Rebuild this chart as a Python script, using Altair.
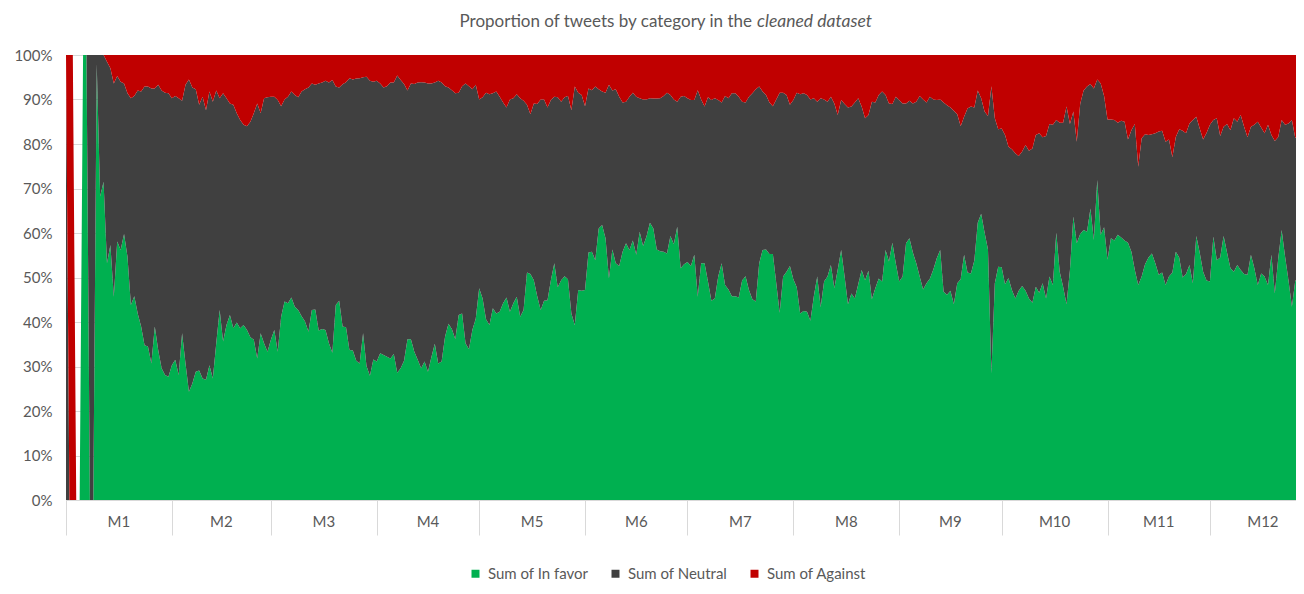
import altair as alt
import pandas as pd

categories = ["Sum of In favor", "Sum of Neutral", "Sum of Against"]
colors = ["#00B050", "#404040", "#C00000"]

month_labels = ["M1", "M2", "M3", "M4", "M5", "M6", "M7", "M8", "M9", "M10", "M11", "M12"]
month_starts = [0, 31, 60, 91, 121, 152, 182, 213, 244, 274, 305, 335]
month_ends = [31, 60, 91, 121, 152, 182, 213, 244, 274, 305, 335, 366]

# days with no tweets at all
empty_days = [3, 4]

# top of the "In favor" band (%), one value per day
in_favor = [
    0, 0, 0, 0, 0, 100, 100, 0, 0, 98,
    68.2, 71.5, 53.2, 57.3, 45.7, 58.1, 56.2, 59.8, 54.7, 43.8,
    45.8, 41.9, 39.0, 34.8, 34.5, 30.7, 39.0, 33.7, 29.6, 28.1,
    27.7, 30.3, 31.5, 28.1, 37.5, 30.7, 24.3, 26.2, 28.8, 29.1,
    27.3, 27.0, 30.3, 27.3, 35.2, 42.7, 35.6, 39.3, 41.6, 38.6,
    39.9, 38.6, 39.3, 38.2, 36.6, 36.0, 31.8, 37.5, 35.2, 33.3,
    36.0, 38.2, 33.3, 41.2, 44.6, 44.2, 45.5, 43.4, 42.7, 41.3,
    40.1, 37.8, 42.7, 42.8, 38.1, 38.4, 38.2, 35.2, 33.1, 43.8,
    44.8, 39.0, 38.8, 33.7, 33.6, 31.3, 30.7, 37.5, 30.1, 27.9,
    31.6, 31.1, 33.0, 32.6, 32.2, 31.8, 32.8, 28.6, 29.6, 31.3,
    36.1, 36.1, 33.3, 31.5, 29.6, 31.1, 28.8, 32.1, 35.1, 30.7,
    31.1, 36.7, 39.6, 38.4, 36.1, 41.6, 41.9, 35.2, 33.9, 38.2,
    40.8, 47.6, 45.3, 40.6, 39.3, 43.1, 41.9, 42.3, 44.2, 45.5,
    42.3, 44.2, 45.7, 41.2, 42.7, 51.1, 50.8, 49.4, 45.8, 42.7,
    44.8, 44.9, 49.4, 53.2, 47.8, 49.4, 50.3, 49.6, 41.9, 39.3,
    47.2, 47.0, 47.2, 55.6, 55.8, 53.9, 61.0, 61.8, 58.8, 49.8,
    56.3, 53.2, 52.6, 55.8, 57.7, 56.2, 58.3, 55.1, 60.3, 57.1,
    59.2, 62.3, 61.0, 56.3, 55.9, 55.8, 55.4, 59.3, 57.5, 61.4,
    52.1, 53.0, 53.5, 52.6, 55.1, 45.7, 53.2, 53.2, 49.1, 44.8,
    45.3, 50.2, 53.2, 48.3, 47.3, 45.8, 45.8, 45.5, 49.3, 50.3,
    47.2, 45.1, 44.6, 53.2, 56.2, 56.3, 55.3, 55.3, 48.7, 42.1,
    50.2, 51.3, 52.6, 49.6, 47.8, 41.9, 42.5, 42.3, 40.3, 45.8,
    50.2, 43.3, 49.1, 50.2, 52.8, 47.6, 51.8, 56.2, 50.3, 44.0,
    46.4, 45.3, 48.5, 51.7, 49.4, 51.5, 45.1, 47.6, 49.8, 49.1,
    56.2, 53.6, 57.8, 53.2, 49.1, 50.2, 57.7, 58.8, 55.6, 53.2,
    50.2, 47.3, 48.7, 49.8, 51.8, 54.3, 56.2, 46.8, 46.1, 47.0,
    44.0, 48.7, 49.6, 55.1, 51.1, 50.9, 53.8, 62.3, 64.3, 60.1,
    56.3, 28.5, 48.7, 52.4, 52.3, 48.5, 49.9, 47.2, 45.3, 47.0,
    48.1, 47.0, 45.3, 44.3, 47.9, 46.6, 48.7, 45.3, 50.2, 48.3,
    60.1, 51.3, 47.9, 44.0, 51.7, 63.7, 57.7, 59.8, 60.7, 60.3,
    65.5, 58.4, 71.9, 59.6, 61.3, 54.0, 58.8, 58.3, 59.6, 59.0,
    58.3, 57.8, 55.8, 51.7, 48.3, 50.2, 53.0, 54.5, 55.4, 53.2,
    50.6, 51.1, 48.3, 50.2, 51.1, 55.8, 54.5, 50.0, 50.8, 52.8,
    48.7, 59.3, 55.6, 51.3, 49.3, 49.1, 59.2, 53.9, 54.5, 59.3,
    55.6, 52.1, 51.3, 52.8, 51.7, 50.8, 50.6, 55.1, 52.1, 48.3,
    50.9, 50.2, 48.3, 55.1, 46.4, 54.3, 60.7, 54.7, 49.4, 43.4,
    49.4, 48.7, 52.4,
]

# top of the "Neutral" band (= In favor + Neutral, %), one value per day
upper = [
    100, 0, 0, 0, 0, 100, 100, 100, 100, 100,
    100, 100, 98.5, 97.0, 93.6, 95.3, 94.0, 93.6, 91.4, 90.3,
    90.8, 92.0, 91.8, 92.9, 92.9, 92.5, 92.5, 93.3, 92.0, 91.5,
    91.4, 90.3, 90.8, 90.3, 89.7, 93.3, 94.5, 92.7, 92.3, 88.8,
    90.6, 87.6, 91.8, 89.5, 92.0, 90.3, 91.4, 90.3, 89.1, 88.8,
    86.9, 85.4, 84.3, 84.0, 85.0, 86.9, 89.1, 86.9, 90.3, 90.5,
    90.6, 90.6, 89.9, 88.5, 90.0, 90.6, 91.8, 91.0, 90.5, 91.8,
    92.3, 92.7, 93.6, 93.3, 93.6, 93.8, 94.2, 93.8, 94.4, 92.9,
    92.7, 93.4, 93.9, 94.8, 94.5, 94.7, 94.8, 95.0, 95.1, 94.2,
    94.0, 94.2, 93.6, 92.7, 93.0, 93.8, 93.8, 95.4, 94.4, 93.5,
    92.0, 93.6, 93.5, 93.8, 93.9, 93.8, 93.6, 93.6, 93.8, 94.2,
    93.8, 93.0, 92.7, 92.1, 91.4, 91.5, 93.0, 93.6, 93.0, 92.3,
    93.3, 90.0, 90.5, 91.5, 91.2, 91.4, 91.8, 90.6, 89.3, 88.2,
    90.0, 90.3, 91.2, 90.3, 89.7, 88.8, 86.7, 89.1, 89.0, 90.0,
    90.0, 88.2, 89.9, 90.6, 90.5, 89.5, 90.5, 90.8, 87.6, 92.9,
    91.5, 91.0, 88.5, 92.5, 92.1, 92.9, 92.3, 91.8, 91.5, 93.3,
    92.0, 92.3, 90.6, 89.3, 89.5, 90.6, 91.5, 90.6, 90.3, 90.0,
    90.0, 90.3, 90.2, 90.2, 90.3, 90.8, 91.5, 91.0, 90.0, 89.5,
    90.6, 90.8, 90.3, 89.9, 89.9, 92.1, 90.0, 88.4, 90.5, 89.9,
    90.3, 89.9, 89.3, 90.8, 90.3, 91.4, 91.4, 90.6, 89.5, 89.3,
    90.6, 91.4, 92.3, 92.9, 91.8, 91.0, 89.3, 88.5, 90.0, 91.5,
    91.5, 91.0, 88.8, 89.9, 91.5, 91.2, 91.4, 91.0, 90.0, 90.3,
    89.5, 90.3, 90.0, 89.5, 90.6, 89.1, 86.5, 89.9, 89.0, 88.2,
    88.4, 89.3, 90.3, 88.4, 85.8, 86.5, 89.5, 89.3, 91.0, 91.8,
    91.0, 89.1, 89.0, 90.6, 89.9, 89.1, 89.1, 89.7, 89.1, 89.5,
    90.8, 90.0, 89.3, 90.6, 90.0, 89.9, 90.0, 89.3, 88.7, 88.2,
    87.5, 86.7, 84.0, 86.1, 88.0, 88.4, 88.2, 92.0, 90.3, 87.3,
    86.3, 93.0, 85.8, 83.3, 83.5, 82.0, 79.4, 78.8, 77.9, 77.3,
    78.3, 79.8, 78.5, 79.0, 82.0, 82.4, 81.5, 81.8, 84.5, 84.3,
    85.4, 84.8, 84.8, 88.4, 84.5, 87.3, 80.5, 89.0, 92.0, 92.9,
    93.5, 92.5, 94.5, 93.6, 90.8, 85.5, 85.5, 85.4, 84.8, 85.2,
    85.0, 81.0, 83.1, 84.5, 74.9, 81.3, 82.2, 82.0, 82.2, 82.4,
    82.8, 83.0, 80.5, 81.0, 77.0, 81.6, 83.3, 83.0, 82.4, 84.6,
    85.4, 86.1, 83.5, 81.0, 82.5, 84.3, 85.4, 85.8, 81.8, 83.9,
    84.5, 83.1, 85.8, 85.0, 86.5, 83.9, 81.5, 83.9, 84.3, 85.0,
    83.7, 82.4, 84.3, 82.0, 80.7, 81.6, 85.4, 84.3, 84.6, 85.4,
    81.3, 82.8, 86.5,
]

rows = []
for day, (g, t) in enumerate(zip(in_favor, upper)):
    if day in empty_days:
        vals = (0.0, 0.0, 0.0)
    else:
        vals = (g, t - g, 100 - t)
    for k, (cat, v) in enumerate(zip(categories, vals)):
        rows.append({"day": day, "category": cat, "value": round(v, 3), "order": k})
df = pd.DataFrame(rows)

months = pd.DataFrame({
    "label": month_labels,
    "mid": [(s + e) / 2 for s, e in zip(month_starts, month_ends)],
})

FONT = "Lato"
TXT = "#595959"
GRID = "#d9d9d9"
W, H = 1230, 445

xscale = alt.Scale(domain=[0, 360.2], nice=False, zero=False)

area = alt.Chart(df).mark_area(interpolate="linear", clip=True).encode(
    x=alt.X("day:Q", scale=xscale,
            axis=alt.Axis(values=month_starts, grid=False, labels=False, title=None,
                          tickSize=35, tickColor=GRID, domainColor=GRID, tickWidth=1)),
    y=alt.Y("value:Q", stack="zero", scale=alt.Scale(domain=[0, 100], nice=False),
            axis=alt.Axis(values=list(range(0, 101, 10)), labelExpr="datum.value + '%'",
                          grid=True, gridColor=GRID, domain=False, ticks=False,
                          labelPadding=14, title=None, labelFontSize=15,
                          labelColor=TXT, labelFont=FONT)),
    color=alt.Color("category:N",
                    scale=alt.Scale(domain=categories, range=colors),
                    legend=alt.Legend(title=None, orient="none", direction="horizontal",
                                      legendX=402, legendY=511, symbolType="square",
                                      symbolSize=64, symbolStrokeWidth=0,
                                      labelFontSize=15, labelColor=TXT, labelFont=FONT,
                                      columnPadding=19, labelOffset=5, padding=0)),
    order=alt.Order("order:Q"),
)

month_text = alt.Chart(months).mark_text(
    font=FONT, fontSize=15, color=TXT, baseline="middle", align="center"
).encode(
    x=alt.X("mid:Q", scale=xscale),
    y=alt.value(467),
    text="label:N",
)

title_df = pd.DataFrame({"a": ["Proportion of tweets by category in the"],
                         "b": ["cleaned dataset"]})
title_a = alt.Chart(title_df).mark_text(
    font=FONT, fontSize=17, color=TXT, align="right", baseline="alphabetic"
).encode(x=alt.value(686), y=alt.value(-28), text="a:N")
title_b = alt.Chart(title_df).mark_text(
    font=FONT, fontSize=17.5, color=TXT, align="left", baseline="alphabetic", fontStyle="italic"
).encode(x=alt.value(691), y=alt.value(-28), text="b:N")

chart = alt.layer(area, month_text, title_a, title_b).properties(
    width=W, height=H,
    autosize=alt.AutoSizeParams(type="none"),
    padding={"left": 58, "top": 47, "right": 0, "bottom": 86},
).configure_view(stroke=None).configure_axis(labelFont=FONT)

chart.save("out.html", embed_options={"renderer": "svg", "actions": False})
